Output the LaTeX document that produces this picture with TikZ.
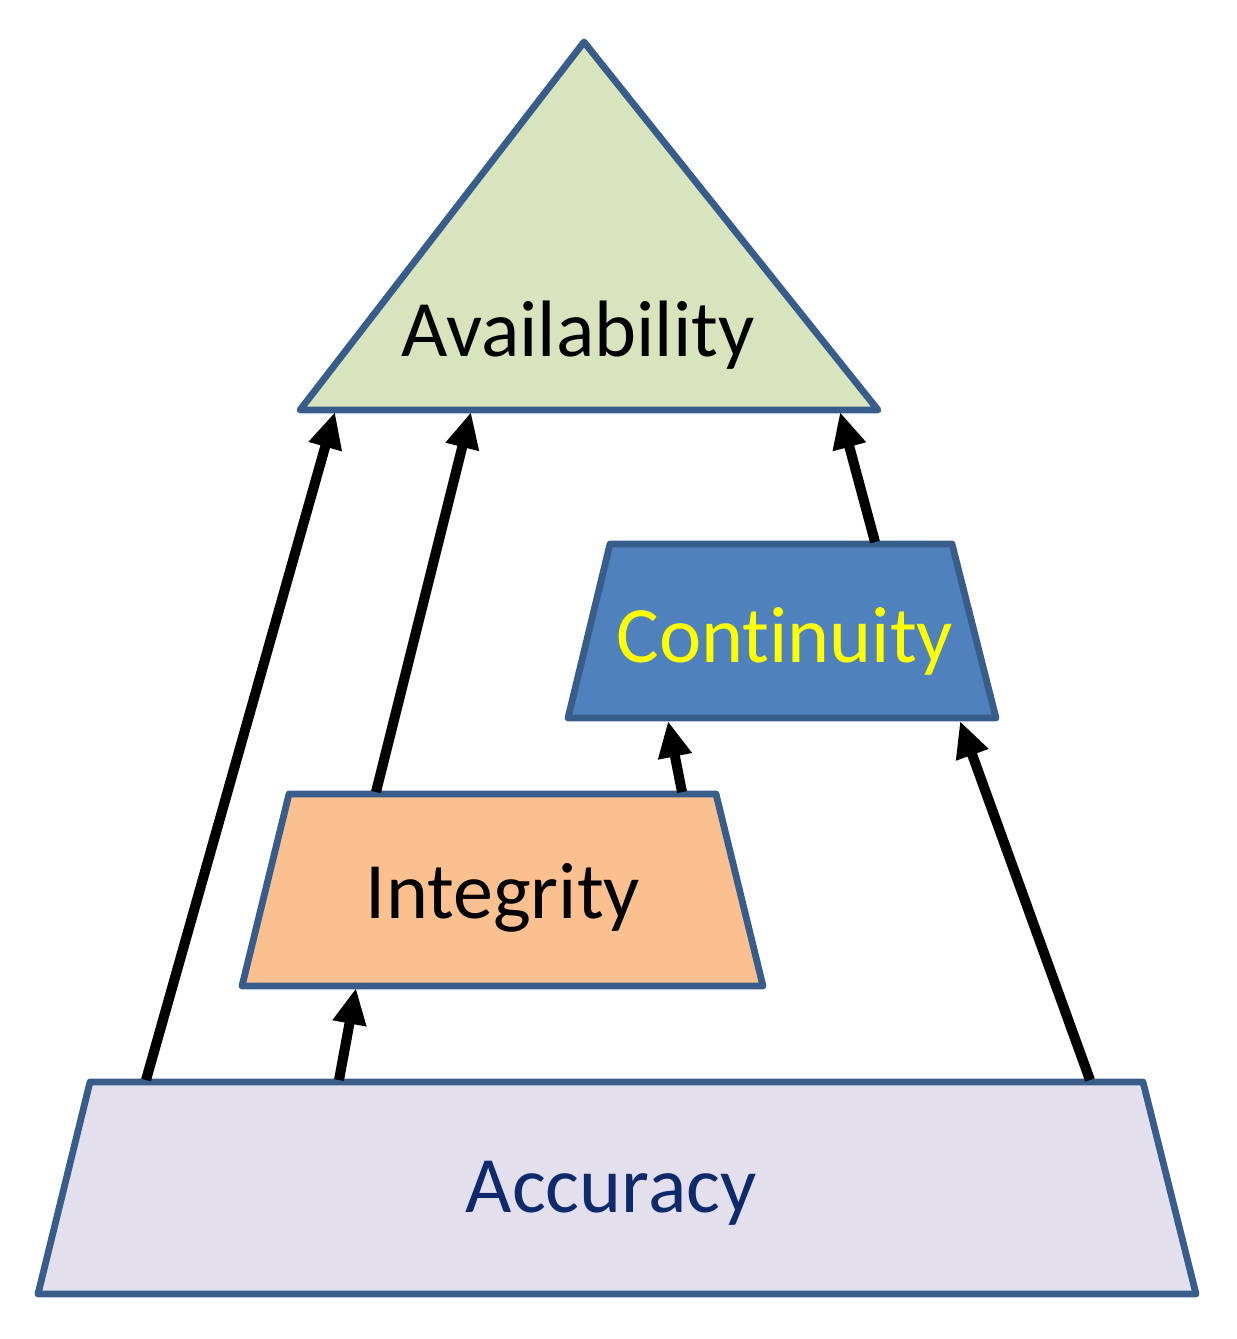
\documentclass[tikz,border=0pt]{standalone}
\usepackage{fontspec}
\setmainfont{Carlito}[Ligatures=NoCommon]
\usetikzlibrary{arrows.meta}
\definecolor{edgeblue}{HTML}{385D8A}
\definecolor{availfill}{HTML}{D7E4BD}
\definecolor{contfill}{HTML}{4F81BD}
\definecolor{integfill}{HTML}{FAC090}
\definecolor{accfill}{HTML}{E4DFEC}
\definecolor{acctext}{HTML}{0F2A6B}
\definecolor{conttext}{HTML}{FFFF00}
\tikzset{
  shapeline/.style={draw=edgeblue, line width=3.4pt, line join=round},
  label/.style={font=\fontsize{40}{48}\selectfont, inner sep=0pt, anchor=base},
  link/.style={-{Triangle[length=18pt,width=16pt]}, line width=5pt, black}
}
\begin{document}
\begin{tikzpicture}[x=0.5pt,y=-0.5pt]
\useasboundingbox (0,0) rectangle (1237,1339);
% shapes
\draw[shapeline, fill=availfill] (584,42) -- (878,410) -- (300,410) -- cycle;
\draw[shapeline, fill=contfill] (610,544) -- (952,544) -- (996,718) -- (568,718) -- cycle;
\draw[shapeline, fill=integfill] (289,794) -- (716,794) -- (763,986) -- (242,986) -- cycle;
\draw[shapeline, fill=accfill] (90,1082) -- (1143,1082) -- (1196,1294) -- (38,1294) -- cycle;
% labels
\node[label] (avail) at (578,356) {Availability};
\node[label, text=conttext] (cont) at (785,662) {Continuity};
\node[label] (integ) at (503,918) {Integrity};
\node[label, text=acctext] (acc) at (611,1212) {Accuracy};
% connector end points
\coordinate (accA) at (146,1080);
\coordinate (accI) at (339,1080);
\coordinate (accC) at (1090,1080);
\coordinate (intA) at (376,792);
\coordinate (intC) at (682,792);
\coordinate (intIn) at (356,988);
\coordinate (conA) at (875,542);
\coordinate (conInI) at (668,721);
\coordinate (conInA) at (960,721);
\coordinate (avA1) at (335,412);
\coordinate (avA2) at (471,412);
\coordinate (avA3) at (840,412);
% connectors
\draw[link] (accA) -- (avA1);
\draw[link] (intA) -- (avA2);
\draw[link] (conA) -- (avA3);
\draw[link] (accI) -- (intIn);
\draw[link] (intC) -- (conInI);
\draw[link] (accC) -- (conInA);
\end{tikzpicture}
\end{document}
